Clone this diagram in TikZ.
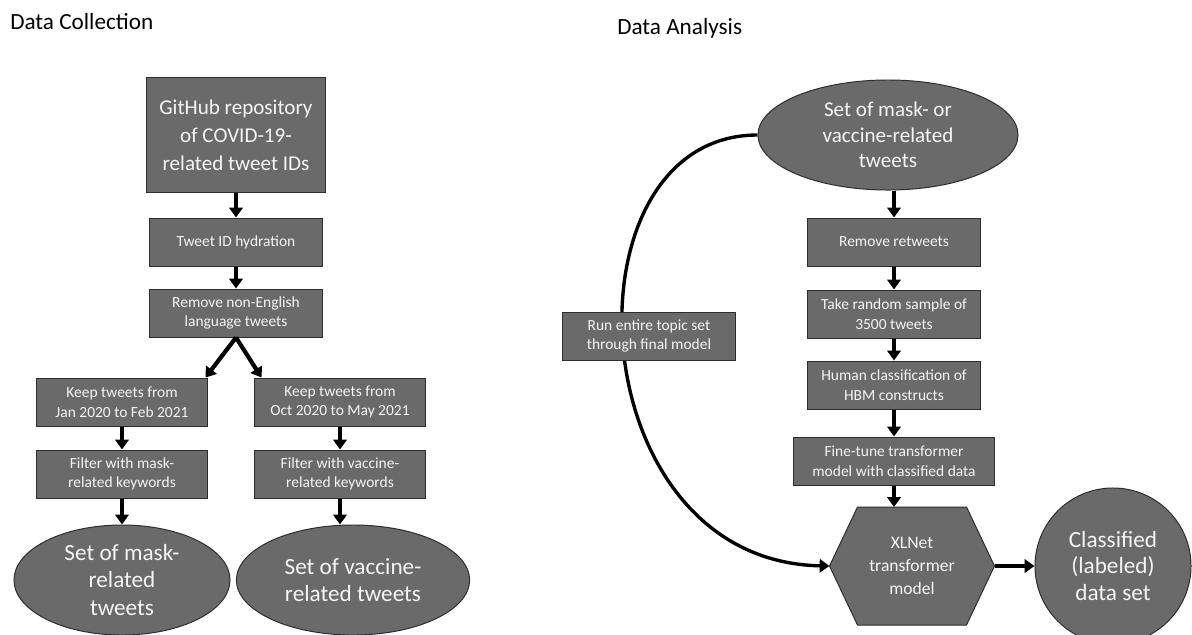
\documentclass[tikz,border=0pt]{standalone}
\usepackage{fontspec}
\setmainfont{Carlito}
\usetikzlibrary{arrows.meta,positioning,shapes.geometric}

\definecolor{boxfill}{RGB}{106,106,106}
\definecolor{boxline}{RGB}{45,45,45}
\definecolor{boxtext}{RGB}{245,245,245}

\begin{document}
\begin{tikzpicture}[
    x=0.025cm, y=-0.025cm,
    node distance=0.6cm,
    stepbox/.style={rectangle, draw=boxline, fill=boxfill, text=boxtext, line width=0.7pt, align=center, minimum width=4.3cm, minimum height=1.2cm, inner sep=2pt, font=\fontsize{11}{14}\selectfont},
    sourcebox/.style={stepbox, minimum width=4.45cm, minimum height=2.85cm, font=\fontsize{15}{19.8}\selectfont},
    dataset/.style={ellipse, draw=boxline, fill=boxfill, text=boxtext, line width=0.7pt, align=center, inner sep=0pt, minimum height=2.75cm, font=\fontsize{16.5}{19.5}\selectfont},
    hexshape/.style={draw=boxline, fill=boxfill, line width=0.7pt, line join=miter},
    model/.style={rectangle, text=boxtext, align=center, minimum width=4.125cm, minimum height=2.95cm, inner sep=0pt, outer sep=0pt, font=\fontsize{12.5}{16.5}\selectfont},
    result/.style={circle, draw=boxline, fill=boxfill, text=boxtext, line width=0.7pt, align=center, minimum size=3.9cm, inner sep=0pt, font=\fontsize{16.5}{19}\selectfont},
    heading/.style={anchor=west, inner sep=0pt, font=\fontsize{16.5}{19}\selectfont},
    arrow/.style={-{Triangle[width=9.5pt,length=7pt]}, line width=2.4pt},
    fork/.style={arrow, line width=3pt}
]
    \useasboundingbox (0,0) rectangle (1192,634);

    % Headings
    \node[heading] (collecttitle) at (10,22) {Data Collection};
    \node[heading] (analysistitle) at (617,28) {Data Analysis};

    % Data collection
    \node[sourcebox] (github) at (236,135) {GitHub repository\\of COVID-19-\\related tweet IDs};
    \node[stepbox, below=0.625cm of github] (hydrate) {Tweet ID hydration};
    \node[stepbox, below=0.55cm of hydrate] (english) {Remove non-English\\language tweets};

    \node[stepbox, minimum width=4.25cm] (keepmask) at (122,402) {Keep tweets from\\Jan 2020 to Feb 2021};
    \node[stepbox, minimum width=4.25cm] (keepvax) at (340,402) {Keep tweets from\\Oct 2020 to May 2021};
    \node[stepbox, minimum width=4.25cm, below=0.575cm of keepmask] (filtermask) {Filter with mask-\\related keywords};
    \node[stepbox, minimum width=4.25cm, below=0.575cm of keepvax] (filtervax) {Filter with vaccine-\\related keywords};

    \node[dataset, minimum width=5.4cm] (maskset) at (122,580) {Set of mask-\\related\\tweets};
    \node[dataset, minimum width=5.83cm] (vaxset) at (353,580) {Set of vaccine-\\related tweets};

    % Data analysis
    \node[dataset, minimum width=6.5cm, font=\fontsize{15}{18}\selectfont] (alltweets) at (888,135) {Set of mask- or\\vaccine-related\\tweets};
    \node[stepbox] (retweets) at (894,242) {Remove retweets};
    \node[stepbox, below=0.575cm of retweets] (sample) {Take random sample of\\3500 tweets};
    \node[stepbox, below=0.55cm of sample] (human) {Human classification of\\HBM constructs};
    \node[stepbox, minimum width=5cm, below=0.675cm of human] (finetune) {Fine-tune transformer\\model with classified data};

    % hexagon for the model
    \coordinate (xlnetmid) at (912,566);
    \filldraw[hexshape, shift={(xlnetmid)}] (-82.5,0) -- (-54.5,-59) -- (54.5,-59) -- (82.5,0) -- (54.5,59) -- (-54.5,59) -- cycle;
    \node[model] (xlnet) at (xlnetmid) {XLNet\\transformer\\model};
    \node[result] (labeled) at (1113,566) {Classified\\(labeled)\\data set};

    % Arrows
    \draw[arrow] (github) -- (hydrate);
    \draw[arrow] (hydrate) -- (english);
    \draw[fork] (english.south) -- ([xshift=-0.05cm]keepmask.north east);
    \draw[fork] (english.south) -- ([xshift=0.175cm]keepvax.north west);
    \draw[arrow] (keepmask) -- (filtermask);
    \draw[arrow] (filtermask) -- (maskset);
    \draw[arrow] (keepvax) -- (filtervax);
    \draw[arrow] (filtervax.south) -- (filtervax.south |- vaxset.north);

    \draw[arrow] (retweets.north |- alltweets.south) -- (retweets);
    \draw[arrow] (retweets) -- (sample);
    \draw[arrow] (sample) -- (human);
    \draw[arrow] (human) -- (finetune);
    \draw[arrow] (finetune.south) -- (finetune.south |- xlnet.north);
    \draw[arrow] (xlnet) -- (labeled);

    % Loop through the final model
    \draw[arrow] (alltweets.west) .. controls +(-198,0) and +(-253,-5) .. (xlnet.west);
    \node[stepbox] (fullrun) at (649,336) {Run entire topic set\\through final model};
\end{tikzpicture}
\end{document}
